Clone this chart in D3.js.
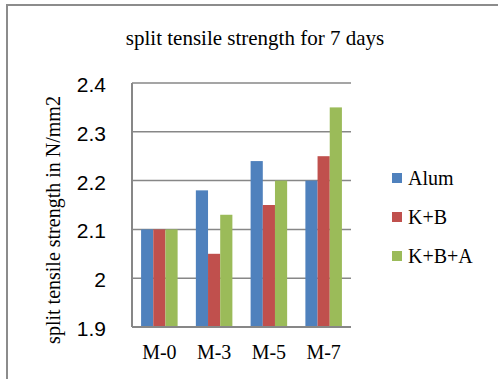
<!DOCTYPE html>
<html>
<head>
<meta charset="utf-8">
<script src="https://cdn.jsdelivr.net/npm/d3@7"></script>
<style>
  html, body { margin: 0; padding: 0; background: #fff; }
  svg { display: block; }
</style>
</head>
<body>
<svg id="chart" width="498" height="379"></svg>
<script>
// Split tensile strength after 7 days of curing, per mix
const categories = ["M-0", "M-3", "M-5", "M-7"];
const seriesNames = ["Alum", "K+B", "K+B+A"];
const alum = [2.10, 2.18, 2.24, 2.20];
const kb   = [2.10, 2.05, 2.15, 2.25];
const kba  = [2.10, 2.13, 2.20, 2.35];
const yTicks = [1.9, 2.0, 2.1, 2.2, 2.3, 2.4];
const yTickLabels = ["1.9", "2", "2.1", "2.2", "2.3", "2.4"];
const colors = ["#4F81BD", "#C0504D", "#9BBB59"];

const seriesValues = [alum, kb, kba];

const svg = d3.select("#chart");
const serif = "'Liberation Serif', 'Times New Roman', serif";
const sans = "'Liberation Sans', Arial, sans-serif";

// outer frame
svg.append("rect")
  .attr("x", 7).attr("y", 5)
  .attr("width", 600).attr("height", 500)
  .attr("fill", "none")
  .attr("stroke", "#8c8c8c")
  .attr("stroke-width", 2);

const plot = { left: 132, right: 351, top: 83, bottom: 327 };

const x = d3.scaleBand()
  .domain(categories)
  .range([plot.left, plot.right])
  .paddingInner(0.333)
  .paddingOuter(0.166);

const xs = d3.scaleBand()
  .domain(seriesNames)
  .range([0, x.bandwidth()])
  .padding(0);

const y = d3.scaleLinear()
  .domain([1.9, 2.4])
  .range([plot.bottom, plot.top]);

// horizontal gridlines
svg.append("g")
  .selectAll("line")
  .data(yTicks.slice(1))
  .join("line")
  .attr("x1", plot.left).attr("x2", plot.right)
  .attr("y1", d => y(d)).attr("y2", d => y(d))
  .attr("stroke", "#878787")
  .attr("stroke-width", 1.5);

// bars
const groups = svg.append("g")
  .selectAll("g")
  .data(categories)
  .join("g")
  .attr("transform", d => `translate(${x(d)},0)`);

groups.selectAll("rect")
  .data((c, i) => seriesNames.map((s, k) => ({ s, k, v: seriesValues[k][i] })))
  .join("rect")
  .attr("x", d => xs(d.s))
  .attr("width", xs.bandwidth())
  .attr("y", d => y(d.v))
  .attr("height", d => y(1.9) - y(d.v))
  .attr("fill", d => colors[d.k]);

// axis lines
svg.append("line")
  .attr("x1", plot.left).attr("x2", plot.left)
  .attr("y1", plot.top).attr("y2", plot.bottom)
  .attr("stroke", "#878787").attr("stroke-width", 2);
svg.append("line")
  .attr("x1", plot.left).attr("x2", plot.right)
  .attr("y1", plot.bottom).attr("y2", plot.bottom)
  .attr("stroke", "#878787").attr("stroke-width", 2);

// y tick labels
svg.append("g")
  .selectAll("text")
  .data(yTicks)
  .join("text")
  .attr("x", 106)
  .attr("y", d => y(d) + 9)
  .attr("text-anchor", "end")
  .attr("font-family", sans)
  .attr("font-size", 21)
  .attr("fill", "#000")
  .text((d, i) => yTickLabels[i]);

// x tick labels
svg.append("g")
  .selectAll("text")
  .data(categories)
  .join("text")
  .attr("x", d => x(d) + x.bandwidth() / 2)
  .attr("y", 359)
  .attr("text-anchor", "middle")
  .attr("font-family", serif)
  .attr("font-size", 20)
  .attr("fill", "#000")
  .text(d => d);

// title
svg.append("text")
  .attr("x", 255).attr("y", 45)
  .attr("text-anchor", "middle")
  .attr("font-family", serif)
  .attr("font-size", 21)
  .attr("fill", "#000")
  .text("split tensile strength for 7 days");

// y axis title
svg.append("text")
  .attr("transform", "translate(60,220) rotate(-90)")
  .attr("text-anchor", "middle")
  .attr("font-family", serif)
  .attr("font-size", 20)
  .attr("fill", "#000")
  .text("split tensile strength in N/mm2");

// legend
const legend = svg.append("g")
  .selectAll("g")
  .data(seriesNames)
  .join("g")
  .attr("transform", (d, i) => `translate(392,${173 + i * 39})`);
legend.append("rect")
  .attr("width", 10).attr("height", 10)
  .attr("fill", (d, i) => colors[i]);
legend.append("text")
  .attr("x", 16).attr("y", 12)
  .attr("font-family", serif)
  .attr("font-size", 20)
  .attr("fill", "#000")
  .text(d => d);
</script>
</body>
</html>
